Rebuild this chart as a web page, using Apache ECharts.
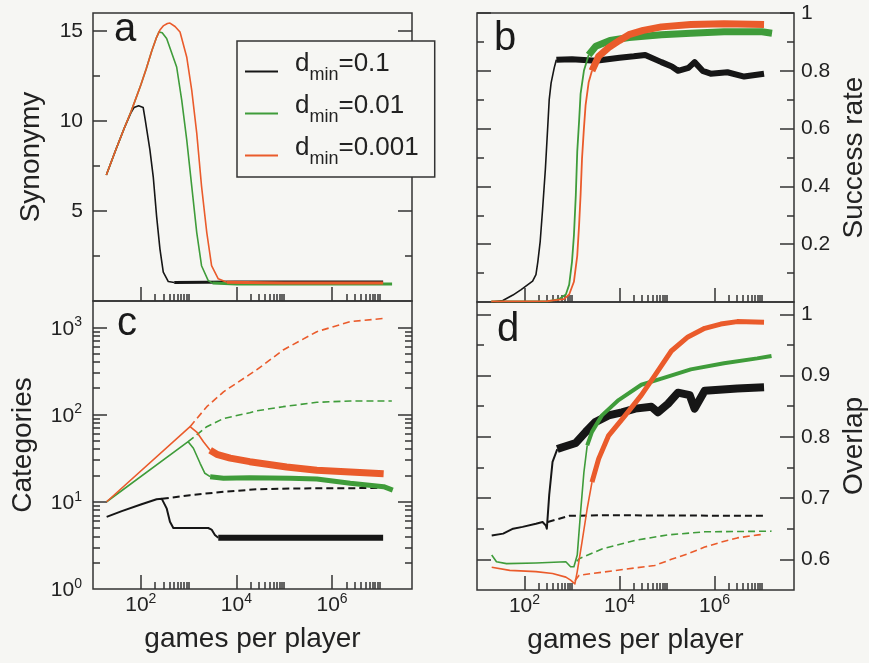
<!DOCTYPE html>
<html>
<head>
<meta charset="utf-8">
<script src="https://cdn.jsdelivr.net/npm/echarts@6/dist/echarts.min.js"></script>
<style>
html,body{margin:0;padding:0;background:#f6f6f3;}
#chart{width:869px;height:663px;}
</style>
</head>
<body>
<div id="chart"></div>
<script>
// ---------- data ----------
const seriesNames = ['0.1', '0.01', '0.001'];
const xMajorTicks = [1e2, 1e4, 1e6];
const xMinorTicks = [2e2,3e2,4e2,5e2,6e2,7e2,8e2,9e2,1e3, 2e4,3e4,4e4,5e4,6e4,7e4,8e4,9e4,1e5, 2e6,3e6,4e6,5e6,6e6,7e6,8e6,9e6,1e7];
const xLabelValues = [1e2, 1e4, 1e6];
const synMajor = [5, 10, 15];
const synMinor = [2.5, 7.5, 12.5];
const succMajor = [0.2, 0.4, 0.6, 0.8, 1];
const succMinor = [0.1, 0.3, 0.5, 0.7, 0.9];
const catLabels = [1, 10, 100, 1000];
const catMajor = [10, 100, 1000];
const catMinor = [2,3,4,5,6,7,8,9,20,30,40,50,60,70,80,90,200,300,400,500,600,700,800,900];
const ovMajor = [0.6, 0.7, 0.8, 0.9, 1];
const ovMinor = [0.65, 0.75, 0.85, 0.95];

// panel a: synonymy
const synBlack = [[19,7.0],[30,8.4],[45,9.6],[62,10.45],[72,10.75],[90,10.85],[112,10.75],[123,10.1],[155,8.4],[182,6.9],[214,4.7],[251,2.9],[295,1.6],[376,1.08],[500,1.03]];
const synBlackTail = [[500,1.03],[1e4,1.05],[1e6,1.05],[1.17e7,1.05]];
const synGreen = [[19,7.0],[30,8.4],[45,9.6],[62,10.5],[80,11.3],[100,12.0],[130,12.9],[170,13.9],[210,14.6],[240,14.95],[280,14.9],[347,14.58],[562,13.0],[716,11.17],[912,8.96],[1161,6.38],[1479,3.8],[1862,1.96],[2570,1.13],[3162,1.0]];
const synGreenTail = [[3162,1.0],[1e4,0.95],[1e6,0.95],[1.8e7,0.95]];
const synOrange = [[19,7.0],[30,8.4],[45,9.6],[62,10.5],[80,11.3],[100,12.0],[130,12.9],[170,13.9],[210,14.6],[251,15.05],[300,15.3],[360,15.42],[407,15.44],[520,15.25],[661,14.94],[912,13.56],[1161,11.72],[1479,9.33],[1862,6.38],[2399,3.8],[3020,1.96],[4169,1.23],[6310,1.04]];
const synOrangeTail = [[6310,1.04],[1e5,1.0],[1.17e7,1.0]];

// panel b: success rate
const succBlack = [[21,0.0],[35,0.005],[57,0.024],[85,0.043],[148,0.072],[174,0.095],[191,0.14],[214,0.21],[240,0.32],[275,0.46],[309,0.61],[331,0.70],[363,0.758],[422,0.81],[468,0.838]];
const succBlackTail = [[468,0.838],[1000,0.84],[3162,0.835],[1e4,0.845],[2e4,0.85],[3.47e4,0.855],[7.6e4,0.83],[1.26e5,0.815],[1.7e5,0.80],[2.82e5,0.81],[3.8e5,0.83],[5.6e5,0.80],[8.3e5,0.79],[1.86e6,0.795],[4.2e6,0.78],[1.1e7,0.79]];
const succGreen = [[20,0.002],[300,0.002],[537,0.01],[741,0.026],[871,0.06],[1000,0.14],[1096,0.23],[1202,0.37],[1288,0.52],[1413,0.63],[1514,0.72],[1778,0.80],[2239,0.855]];
const succGreenTail = [[2239,0.855],[3162,0.885],[6310,0.905],[1.58e4,0.915],[7.6e4,0.925],[3.16e5,0.93],[1.58e6,0.935],[1e7,0.935],[1.62e7,0.93]];
const succOrange = [[20,0.002],[300,0.003],[676,0.01],[871,0.026],[1096,0.07],[1288,0.16],[1413,0.27],[1514,0.37],[1622,0.495],[1778,0.6],[1928,0.68],[2239,0.76],[2630,0.80]];
const succOrangeTail = [[2630,0.80],[3631,0.85],[5888,0.88],[1e4,0.905],[1.58e4,0.925],[3.16e4,0.94],[7.6e4,0.952],[3.16e5,0.96],[1.58e6,0.963],[1.1e7,0.96]];

// panel c: categories
const catBlack = [[19.3,6.7],[40,7.8],[100,9.3],[214,10.7],[275,10.8],[347,8.4],[407,5.9],[479,5.0],[661,5.0],[2570,5.0],[3020,4.8],[3548,4.15],[4169,3.87]];
const catBlackTail = [[4169,3.87],[1e5,3.87],[1.17e7,3.87]];
const catBlackDash = [[275,10.8],[1072,11.9],[5370,13.0],[2.63e4,13.9],[1.32e5,14.2],[1.78e7,14.4]];
const catGreen = [[19.3,10],[977,48.8],[1259,41],[1738,27.6],[2188,21.2],[2818,19.4]];
const catGreenTail = [[2818,19.4],[5370,18.6],[1.9e4,18.8],[1.32e5,18.6],[4.8e5,18.2],[2.4e6,16.3],[1.2e7,14.9],[1.86e7,13.6]];
const catGreenDash = [[977,48.8],[2399,72.5],[5370,90],[1.9e4,105],[2.63e4,110],[9.5e4,123],[4.8e5,138],[2.4e6,143],[1.78e7,143]];
const catOrange = [[19.3,10],[1072,72.5],[1479,63],[2042,48.7],[2818,39]];
const catOrangeTail = [[2818,39],[3890,35],[7413,31.6],[1.9e4,28.8],[1.12e5,25],[4.8e5,23],[2.4e6,22],[1.2e7,21]];
const catOrangeDash = [[1072,72.5],[2399,123],[5370,182],[1.9e4,288],[2.63e4,324],[9.5e4,549],[4.8e5,890],[2.4e6,1160],[1.17e7,1260]];

// panel d: overlap
const ovBlack = [[20.4,0.639],[35.5,0.642],[57.5,0.65],[91,0.653],[174,0.658],[240,0.661],[282,0.655],[295,0.65],[331,0.705],[389,0.759],[490,0.78]];
const ovBlackTail = [[490,0.78],[631,0.783],[1202,0.79],[1950,0.808],[3090,0.824],[5888,0.835],[1.12e4,0.84],[2.14e4,0.846],[4.68e4,0.849],[6.46e4,0.84],[1.05e5,0.854],[1.7e5,0.872],[3e5,0.868],[3.8e5,0.846],[6.2e5,0.875],[3e6,0.879],[1.1e7,0.881]];
const ovBlackDash = [[309,0.661],[871,0.671],[4266,0.672],[1.1e7,0.671]];
const ovGreen = [[20.4,0.607],[25.7,0.596],[41.7,0.593],[174,0.594],[741,0.596],[933,0.588],[1096,0.588],[1288,0.607],[1514,0.677],[1778,0.742],[2089,0.786]];
const ovGreenTail = [[2089,0.786],[2630,0.808],[4266,0.835],[9550,0.86],[2.88e4,0.885],[7.6e4,0.895],[3.16e5,0.91],[1.58e6,0.92],[7.9e6,0.928],[1.58e7,0.932]];
const ovGreenDash = [[1259,0.597],[1413,0.601],[4266,0.617],[2.14e4,0.631],[1.05e5,0.64],[6.2e5,0.645],[1.58e7,0.646]];
const ovOrange = [[20.4,0.587],[49,0.582],[174,0.58],[389,0.577],[741,0.571],[933,0.566],[1148,0.56],[1288,0.58],[1622,0.628],[2089,0.683],[2630,0.726]];
const ovOrangeTail = [[2630,0.726],[3631,0.764],[5888,0.802],[1.32e4,0.835],[2.88e4,0.868],[5.5e4,0.9],[1.23e5,0.94],[2.75e5,0.963],[6.2e5,0.977],[1.35e6,0.984],[3e6,0.988],[1.1e7,0.987]];
const ovOrangeDash = [[1148,0.565],[1413,0.574],[4266,0.579],[2.14e4,0.586],[5.5e4,0.59],[1.23e5,0.6],[2.75e5,0.609],[6.2e5,0.62],[1.35e6,0.628],[3e6,0.635],[8.3e6,0.64],[1.1e7,0.641]];

// ---------- styling ----------
const FONT = "'Liberation Sans', Arial, Helvetica, sans-serif";
const INK = '#222';
const BG = '#f6f6f3';
const BORDER = '#333';
const COLORS = {'0.1': '#161616', '0.01': '#3f9c3a', '0.001': '#ea5b2b'};
const XMIN = 10, XMAX = 4.7e7;

const powRich = {
  b: {fontSize: 21, fontFamily: FONT, color: INK, lineHeight: 24, verticalAlign: 'bottom'},
  e: {fontSize: 14, fontFamily: FONT, color: INK, lineHeight: 14, padding: [0, 0, 10, 0], verticalAlign: 'bottom'}
};
const powFmt = v => '{b|10}{e|' + Math.round(Math.log10(v)) + '}';

const grids = [
  {left: 93, top: 13, width: 319, height: 288},
  {left: 477, top: 13, width: 320, height: 289},
  {left: 93, top: 301, width: 319, height: 288},
  {left: 477, top: 302, width: 320, height: 288}
].map(g => Object.assign(g, {show: true, borderColor: BORDER, borderWidth: 1.5, backgroundColor: 'transparent', containLabel: false}));

const tickLine = {color: BORDER, width: 1.5};
const xAxes = [], yAxes = [];
function addX(g, showLabels) {
  xAxes.push({
    gridIndex: g, type: 'log', logBase: 10, min: XMIN, max: XMAX, position: 'bottom',
    axisLine: {show: false}, splitLine: {show: false},
    axisTick: {show: true, inside: true, length: 14, lineStyle: tickLine, customValues: xMajorTicks},
    axisLabel: {show: showLabels, customValues: xLabelValues, formatter: powFmt, rich: powRich, margin: 3, hideOverlap: false},
    name: showLabels ? 'games per player' : '', nameLocation: 'middle', nameGap: 36,
    nameTextStyle: {fontSize: 28, fontFamily: FONT, color: INK}
  });
  xAxes.push({
    gridIndex: g, type: 'log', logBase: 10, min: XMIN, max: XMAX, position: 'bottom',
    axisLine: {show: false}, splitLine: {show: false},
    axisTick: {show: true, inside: true, length: 7, lineStyle: tickLine, customValues: xMinorTicks},
    axisLabel: {show: false}
  });
}
function addY(g, spec) {
  const base = {gridIndex: g, type: spec.type, min: spec.min, max: spec.max, axisLine: {show: false}, splitLine: {show: false}};
  if (spec.type === 'log') base.logBase = 10;
  ['left', 'right'].forEach(side => {
    const labelled = side === spec.labelSide;
    yAxes.push(Object.assign({}, base, {
      position: side,
      axisTick: {show: true, inside: true, length: 14, lineStyle: tickLine, customValues: spec.major},
      axisLabel: labelled ? Object.assign({show: true, customValues: spec.labels, margin: spec.margin, hideOverlap: false,
        fontSize: 21, fontFamily: FONT, color: INK}, spec.labelExtra || {}) : {show: false},
      name: labelled ? spec.name : '', nameLocation: 'middle', nameGap: spec.nameGap,
      nameTextStyle: {fontSize: 28, fontFamily: FONT, color: INK}
    }));
    yAxes.push(Object.assign({}, base, {
      position: side,
      axisTick: {show: true, inside: true, length: 7, lineStyle: tickLine, customValues: spec.minor},
      axisLabel: {show: false}
    }));
  });
}
addX(0, false); addX(1, false); addX(2, true); addX(3, true);
addY(0, {type: 'value', min: 0, max: 16, major: synMajor, minor: synMinor, labels: synMajor, labelSide: 'left', margin: 10, name: 'Synonymy', nameGap: 48});
addY(1, {type: 'value', min: 0, max: 1, major: succMajor, minor: succMinor, labels: succMajor, labelSide: 'right', margin: 7, name: 'Success rate', nameGap: 46});
addY(2, {type: 'log', min: 1, max: 2000, major: catMajor, minor: catMinor, labels: catLabels, labelSide: 'left', margin: 11, name: 'Categories', nameGap: 56,
  labelExtra: {formatter: powFmt, rich: powRich}});
addY(3, {type: 'value', min: 0.55, max: 1.02, major: ovMajor, minor: ovMinor, labels: ovMajor, labelSide: 'right', margin: 7, name: 'Overlap', nameGap: 46});

// y-axis index layout per grid: 4*g = left major
function line(g, name, data, width, dashed) {
  const color = COLORS[name];
  return {
    type: 'line', name, xAxisIndex: 2 * g, yAxisIndex: 4 * g, data,
    symbol: 'none', showSymbol: false, silent: true, animation: false,
    lineStyle: {color, width, type: dashed ? [7, 4] : 'solid', join: 'round', cap: 'butt'},
    itemStyle: {color}, emphasis: {disabled: true}
  };
}
const series = [
  line(0, '0.1', synBlack, 1.6), line(0, '0.1', synBlackTail, 3),
  line(0, '0.01', synGreen, 1.6), line(0, '0.01', synGreenTail, 3),
  line(0, '0.001', synOrange, 1.6), line(0, '0.001', synOrangeTail, 3),

  line(1, '0.1', succBlack, 1.6), line(1, '0.1', succBlackTail, 6),
  line(1, '0.01', succGreen, 1.8), line(1, '0.01', succGreenTail, 7),
  line(1, '0.001', succOrange, 1.8), line(1, '0.001', succOrangeTail, 7),

  line(2, '0.1', catBlack, 2), line(2, '0.1', catBlackTail, 6), line(2, '0.1', catBlackDash, 2, true),
  line(2, '0.01', catGreen, 1.6), line(2, '0.01', catGreenTail, 5), line(2, '0.01', catGreenDash, 1.6, true),
  line(2, '0.001', catOrange, 1.6), line(2, '0.001', catOrangeTail, 7), line(2, '0.001', catOrangeDash, 1.6, true),

  line(3, '0.1', ovBlack, 2), line(3, '0.1', ovBlackTail, 8), line(3, '0.1', ovBlackDash, 2, true),
  line(3, '0.01', ovGreen, 1.6), line(3, '0.01', ovGreenTail, 4), line(3, '0.01', ovGreenDash, 1.6, true),
  line(3, '0.001', ovOrange, 1.6), line(3, '0.001', ovOrangeTail, 5), line(3, '0.001', ovOrangeDash, 1.6, true)
];

const letterStyle = {fontSize: 40, fontFamily: FONT, fill: '#1a1a1a', verticalAlign: 'middle'};
const option = {
  backgroundColor: BG,
  animation: false,
  grid: grids,
  xAxis: xAxes,
  yAxis: yAxes,
  legend: {
    data: seriesNames, orient: 'vertical', left: 237, top: 41,
    icon: 'rect', itemWidth: 33, itemHeight: 2, itemGap: 9,
    padding: [10, 16, 9, 8], borderColor: BORDER, borderWidth: 1.5, backgroundColor: BG,
    selectedMode: false,
    formatter: n => '{d|d}{s|min}{d|=' + n + '}',
    textStyle: {
      padding: [0, 0, 0, 12],
      rich: {
        d: {fontSize: 26, fontFamily: FONT, color: INK, lineHeight: 25, padding: [0, 0, 7, 0], verticalAlign: 'bottom'},
        s: {fontSize: 18, fontFamily: FONT, color: INK, lineHeight: 17, verticalAlign: 'bottom'}
      }
    }
  },
  graphic: [
    {type: 'text', x: 114, y: 30, style: Object.assign({text: 'a'}, letterStyle)},
    {type: 'text', x: 494, y: 39, style: Object.assign({text: 'b'}, letterStyle)},
    {type: 'text', x: 117, y: 324, style: Object.assign({text: 'c'}, letterStyle)},
    {type: 'text', x: 497, y: 330, style: Object.assign({text: 'd'}, letterStyle)}
  ],
  series
};
const chart = echarts.init(document.getElementById('chart'), null, {renderer: 'canvas'});
chart.setOption(option);
</script>
</body>
</html>
